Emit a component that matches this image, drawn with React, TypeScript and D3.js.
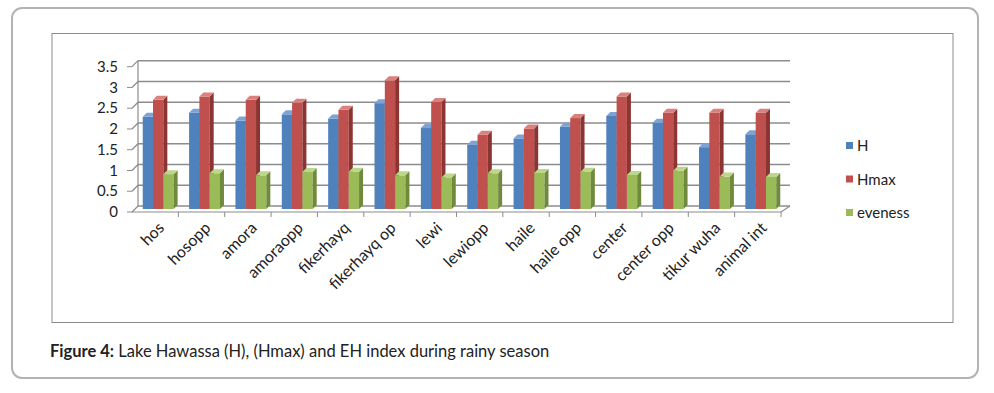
import * as d3 from 'd3';

const categories = ['hos', 'hosopp', 'amora', 'amoraopp', 'fikerhayq', 'fikerhayq op', 'lewi', 'lewiopp', 'haile', 'haile opp', 'center', 'center opp', 'tikur wuha', 'animal int'];
const hValues = [2.22, 2.32, 2.13, 2.28, 2.18, 2.55, 1.95, 1.55, 1.7, 1.98, 2.24, 2.08, 1.49, 1.8];
const hmaxValues = [2.63, 2.71, 2.63, 2.56, 2.39, 3.1, 2.58, 1.79, 1.94, 2.19, 2.71, 2.32, 2.32, 2.32];
const evenessValues = [0.84, 0.86, 0.81, 0.89, 0.9, 0.81, 0.76, 0.86, 0.87, 0.9, 0.82, 0.92, 0.78, 0.77];
const yTicks = [0, 0.5, 1, 1.5, 2, 2.5, 3, 3.5];

const series = [
  { name: 'H', values: hValues, front: '#4F81BD', side: '#36598A', top: '#7DA3D6' },
  { name: 'Hmax', values: hmaxValues, front: '#C0504D', side: '#8B3533', top: '#DA817E' },
  { name: 'eveness', values: evenessValues, front: '#9BBB59', side: '#6F8A3C', top: '#BCD68A' },
];

const FONT = "Lato, 'Open Sans', sans-serif";

// 3d depth of the floor / back wall
const DX = 6;
const DY = -6;

export default function App() {
  const x = d3.scaleBand<string>().domain(categories).range([132, 781]);
  const yFront = d3.scaleLinear().domain([0, 3.5]).range([212, 66.7]);
  const yBack = (v: number) => yFront(v) + DY;
  const x0 = 132;
  const x1 = 781;

  const step = x.step();
  const barW = 10.3;
  const groupPad = (step - barW * 3) / 2;
  const bd = 3; // bar front offset in depth
  const bs = 4; // bar side depth

  return (
    <svg width={994} height={393} style={{ position: 'absolute', left: 0, top: 0, background: '#fff' }}>
      <rect x={12} y={8} width={966} height={370} rx={10} fill="#fff" stroke="#b3b3b3" strokeWidth={2} />
      <rect x={52} y={33.5} width={901} height={289} fill="#fff" stroke="#8c8c8c" strokeWidth={1} />

      {/* back wall grid */}
      {yTicks.map((t) => (
        <g key={t}>
          <line x1={x0 + DX} x2={x1 + DX + 3} y1={yBack(t)} y2={yBack(t)} stroke="#8c8c8c" strokeWidth={1.5} />
          <line x1={x0} x2={x0 + DX} y1={yFront(t)} y2={yBack(t)} stroke="#8c8c8c" strokeWidth={1.2} />
          <line x1={x0 - 5} x2={x0} y1={yFront(t)} y2={yFront(t)} stroke="#8c8c8c" strokeWidth={1} />
          <text x={118} y={yFront(t)} dy="0.35em" textAnchor="end" fontFamily={FONT} fontSize={15} fill="#222">
            {t}
          </text>
        </g>
      ))}
      {/* left wall and floor */}
      <line x1={x0 + DX} x2={x0 + DX} y1={yBack(0)} y2={yBack(3.5)} stroke="#8c8c8c" strokeWidth={1.2} />
      <line x1={x0} x2={x1} y1={yFront(0)} y2={yFront(0)} stroke="#8c8c8c" strokeWidth={1.2} />
      <line x1={x1} x2={x1 + DX + 3} y1={yFront(0)} y2={yBack(0)} stroke="#8c8c8c" strokeWidth={1.2} />
      {categories.map((c, i) => (
        <line key={c} x1={x0 + step * (i + 1)} x2={x0 + step * (i + 1)} y1={yFront(0)} y2={yFront(0) + 5} stroke="#8c8c8c" strokeWidth={1} />
      ))}

      {/* bars */}
      {categories.map((c, i) => (
        <g key={c}>
          {series.map((s, j) => {
            const bx = (x(c) as number) + groupPad + j * barW + bd;
            const by0 = yFront(0) - bd;
            const by1 = yFront(s.values[i]) - bd;
            return (
              <g key={s.name}>
                <rect x={bx} y={by1} width={barW} height={by0 - by1} fill={s.front} />
                <polygon points={`${bx + barW},${by1} ${bx + barW + bs},${by1 - bs} ${bx + barW + bs},${by0 - bs} ${bx + barW},${by0}`} fill={s.side} />
                <polygon points={`${bx},${by1} ${bx + bs},${by1 - bs} ${bx + barW + bs},${by1 - bs} ${bx + barW},${by1}`} fill={s.top} />
              </g>
            );
          })}
        </g>
      ))}

      {/* category labels */}
      {categories.map((c) => {
        const cx = (x(c) as number) + step / 2 + 6;
        return (
          <text key={c} transform={`translate(${cx},${225}) rotate(-45)`} textAnchor="end" dy="0.35em" fontFamily={FONT} fontSize={16} fill="#222">
            {c}
          </text>
        );
      })}

      {/* legend */}
      {series.map((s, j) => (
        <g key={s.name} transform={`translate(846,${146 + j * 33.5})`}>
          <rect x={0} y={-4} width={7} height={7} fill={s.front} />
          <text x={11} y={0} dy="0.35em" fontFamily={FONT} fontSize={15} fill="#222">
            {s.name}
          </text>
        </g>
      ))}

      <text x={50} y={357} fontFamily={FONT} fontSize={16.5} fill="#222">
        <tspan fontWeight="bold">Figure 4:</tspan> Lake Hawassa (H), (Hmax) and EH index during rainy season
      </text>
    </svg>
  );
}
